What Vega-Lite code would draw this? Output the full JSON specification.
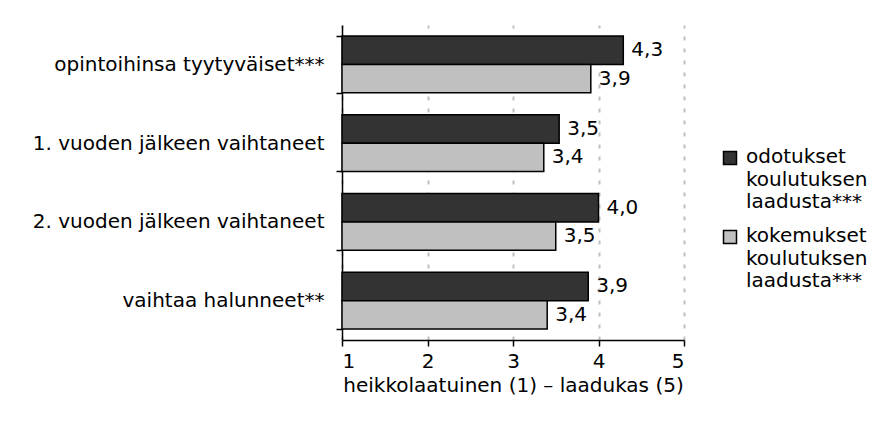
{
  "$schema": "https://vega.github.io/schema/vega-lite/v6.json",
  "width": 342,
  "height": 315,
  "padding": {"top": 15, "left": 32, "right": 10, "bottom": 10},
  "background": "white",
  "config": {
    "font": "DejaVu Sans",
    "view": {"stroke": null},
    "axis": {"labelFont": "DejaVu Sans", "titleFont": "DejaVu Sans", "labelColor": "black", "titleColor": "black"},
    "legend": {"labelFont": "DejaVu Sans"}
  },
  "data": {
    "values": [
      {"group": "opintoihinsa tyytyväiset***", "series": "odotukset|koulutuksen|laadusta***", "value": 4.29, "lbl": "4,3"},
      {"group": "opintoihinsa tyytyväiset***", "series": "kokemukset|koulutuksen|laadusta***", "value": 3.91, "lbl": "3,9"},
      {"group": "1. vuoden jälkeen vaihtaneet", "series": "odotukset|koulutuksen|laadusta***", "value": 3.54, "lbl": "3,5"},
      {"group": "1. vuoden jälkeen vaihtaneet", "series": "kokemukset|koulutuksen|laadusta***", "value": 3.36, "lbl": "3,4"},
      {"group": "2. vuoden jälkeen vaihtaneet", "series": "odotukset|koulutuksen|laadusta***", "value": 4.0, "lbl": "4,0"},
      {"group": "2. vuoden jälkeen vaihtaneet", "series": "kokemukset|koulutuksen|laadusta***", "value": 3.5, "lbl": "3,5"},
      {"group": "vaihtaa halunneet**", "series": "odotukset|koulutuksen|laadusta***", "value": 3.88, "lbl": "3,9"},
      {"group": "vaihtaa halunneet**", "series": "kokemukset|koulutuksen|laadusta***", "value": 3.4, "lbl": "3,4"}
    ]
  },
  "encoding": {
    "y": {
      "field": "group", "type": "nominal", "sort": null,
      "scale": {"paddingInner": 0.28, "paddingOuter": 0.14},
      "axis": {
        "title": null, "tickBand": "extent", "domainColor": "black", "domainWidth": 1.5,
        "tickColor": "black", "tickWidth": 1.5, "tickSize": 6, "labelFontSize": 20, "labelPadding": 12, "labelLimit": 400
      }
    },
    "x": {
      "field": "value", "type": "quantitative",
      "scale": {"domain": [1, 5], "nice": false, "zero": false},
      "axis": {
        "values": [1, 2, 3, 4, 5], "format": "d", "title": "heikkolaatuinen (1) – laadukas (5)",
        "titleFontSize": 20, "titleFontWeight": "normal", "titlePadding": 4,
        "labelFontSize": 20, "labelPadding": 5,
        "domainColor": "black", "domainWidth": 1.5, "tickColor": "black", "tickWidth": 1.5, "tickSize": 6,
        "grid": true, "gridColor": "#c0c0c0", "gridWidth": 2, "gridDash": [4, 8]
      }
    },
    "yOffset": {"field": "series", "type": "nominal", "sort": null}
  },
  "layer": [
    {
      "mark": {"type": "bar", "stroke": "black", "strokeWidth": 1.5},
      "encoding": {
        "x2": {"datum": 1},
        "color": {
          "field": "series", "type": "nominal", "sort": null,
          "scale": {"domain": ["odotukset|koulutuksen|laadusta***", "kokemukset|koulutuksen|laadusta***"], "range": ["#333333", "#c0c0c0"]},
          "legend": {
            "title": null, "orient": "none", "legendX": 378, "legendY": 123,
            "labelExpr": "split(datum.label, '|')", "labelFontSize": 20, "labelLimit": 300,
            "symbolType": "square", "symbolSize": 169, "symbolStrokeColor": "black", "symbolStrokeWidth": 1.5,
            "rowPadding": 14, "labelBaseline": "top", "labelOffset": 6,
            "encode": {"labels": {"update": {"lineHeight": {"value": 22.5}, "dy": {"value": -11}}}}
          }
        }
      }
    },
    {
      "mark": {"type": "text", "align": "left", "baseline": "middle", "dx": 8, "fontSize": 20, "color": "black"},
      "encoding": {"text": {"field": "lbl"}}
    }
  ]
}
